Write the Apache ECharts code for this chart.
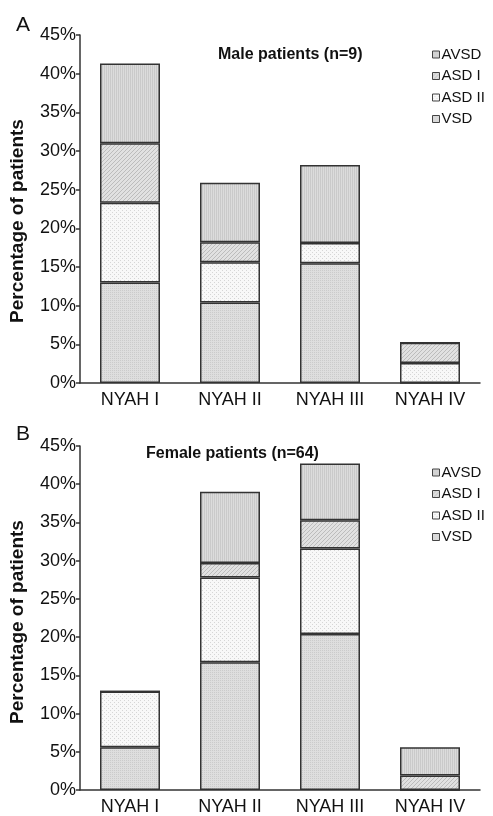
<!DOCTYPE html>
<html>
<head>
<meta charset="utf-8">
<script src="https://cdn.jsdelivr.net/npm/echarts@6/dist/echarts.min.js"></script>
<style>
  html, body { margin: 0; padding: 0; background: #fff; }
  #chart { width: 493px; height: 816px; }
</style>
</head>
<body>
<div id="chart"></div>
<script>
var categories = ['NYAH I', 'NYAH II', 'NYAH III', 'NYAH IV'];
var legendOrder = ['AVSD', 'ASD I', 'ASD II', 'VSD'];
var yTicks = [0, 5, 10, 15, 20, 25, 30, 35, 40, 45];

// male patients (n=9), % of patients, stacked bottom-up
var maleVSD = [13.0, 10.4, 15.5, 0];
var maleASD2 = [10.3, 5.2, 2.6, 2.6];
var maleASD1 = [7.7, 2.6, 0, 2.6];
var maleAVSD = [10.3, 7.7, 10.1, 0];

// female patients (n=64)
var femaleVSD = [5.6, 16.7, 20.4, 0];
var femaleASD2 = [7.3, 11.1, 11.2, 0];
var femaleASD1 = [0, 1.9, 3.7, 1.9];
var femaleAVSD = [0, 9.3, 7.4, 3.7];

var FONT = "'Liberation Sans', Arial, sans-serif";

// little canvas tiles to imitate the print hatching
function tile(w, h, bg, fg, pts) {
  var c = document.createElement('canvas');
  c.width = w; c.height = h;
  var ctx = c.getContext('2d');
  ctx.fillStyle = bg;
  ctx.fillRect(0, 0, w, h);
  ctx.fillStyle = fg;
  pts.forEach(function (p) { ctx.fillRect(p[0], p[1], 1, 1); });
  return { image: c, repeat: 'repeat' };
}

var fills = {
  'VSD': tile(2, 2, '#dedede', '#cbcbcb', [[0, 0]]),
  'ASD II': tile(4, 4, '#f8f8f8', '#d6d6d6', [[0, 0], [2, 2]]),
  'ASD I': tile(4, 4, '#e1e1e1', '#bcbcbc', [[3, 0], [2, 1], [1, 2], [0, 3]]),
  'AVSD': tile(2, 1, '#dcdcdc', '#cacaca', [[0, 0]])
};

function bars(name, data, idx, stack) {
  return {
    name: name,
    type: 'bar',
    stack: stack,
    xAxisIndex: idx,
    yAxisIndex: idx,
    barWidth: 60,
    data: data,
    itemStyle: { color: fills[name], borderColor: '#333', borderWidth: 1.5 }
  };
}

function xAxis(idx) {
  return {
    type: 'category',
    gridIndex: idx,
    data: categories,
    axisLine: { lineStyle: { color: '#333', width: 1.5 } },
    axisTick: { length: 4, lineStyle: { color: '#333', width: 1.5 } },
    axisLabel: { color: '#111', fontSize: 18, fontFamily: FONT, margin: 8 }
  };
}

function yAxis(idx, namePad) {
  return {
    type: 'value',
    gridIndex: idx,
    min: yTicks[0],
    max: yTicks[yTicks.length - 1],
    interval: 5,
    name: 'Percentage of patients',
    nameLocation: 'middle',
    nameGap: 53,
    nameTextStyle: { color: '#111', fontSize: 19, fontWeight: 'bold', fontFamily: FONT, padding: namePad },
    splitLine: { show: false },
    axisLine: { show: true, lineStyle: { color: '#333', width: 1.5 } },
    axisTick: { show: true, length: 4, lineStyle: { color: '#333', width: 1.5 } },
    axisLabel: { color: '#111', fontSize: 18, fontFamily: FONT, margin: 4, formatter: '{value}%' }
  };
}

function legend(top) {
  return {
    data: legendOrder,
    orient: 'vertical',
    left: 427,
    top: top,
    icon: 'rect',
    itemWidth: 7,
    itemHeight: 7,
    itemGap: 6.5,
    itemStyle: { borderColor: '#444', borderWidth: 1 },
    textStyle: { color: '#111', fontSize: 15, fontFamily: FONT, padding: [0, 0, 0, -3] },
    selectedMode: false
  };
}

var chart = echarts.init(document.getElementById('chart'));
chart.setOption({
  animation: false,
  title: [
    { text: 'A', left: 11, top: 10, textStyle: { fontSize: 21, fontWeight: 'normal', color: '#111', fontFamily: FONT } },
    { text: 'B', left: 11, top: 419, textStyle: { fontSize: 21, fontWeight: 'normal', color: '#111', fontFamily: FONT } },
    { text: 'Male patients (n=9)', left: 213, top: 42, textStyle: { fontSize: 16, fontWeight: 'bold', color: '#111', fontFamily: FONT } },
    { text: 'Female patients (n=64)', left: 141, top: 441, textStyle: { fontSize: 16, fontWeight: 'bold', color: '#111', fontFamily: FONT } }
  ],
  legend: [legend(42), legend(460)],
  grid: [
    { left: 80, right: 13, top: 35, height: 348 },
    { left: 80, right: 13, top: 446, height: 344 }
  ],
  xAxis: [xAxis(0), xAxis(1)],
  yAxis: [yAxis(0, [0, 24, 0, 0]), yAxis(1, [0, 8, 0, 0])],
  series: [
    bars('VSD', maleVSD, 0, 'male'),
    bars('ASD II', maleASD2, 0, 'male'),
    bars('ASD I', maleASD1, 0, 'male'),
    bars('AVSD', maleAVSD, 0, 'male'),
    bars('VSD', femaleVSD, 1, 'female'),
    bars('ASD II', femaleASD2, 1, 'female'),
    bars('ASD I', femaleASD1, 1, 'female'),
    bars('AVSD', femaleAVSD, 1, 'female')
  ]
});
</script>
</body>
</html>
